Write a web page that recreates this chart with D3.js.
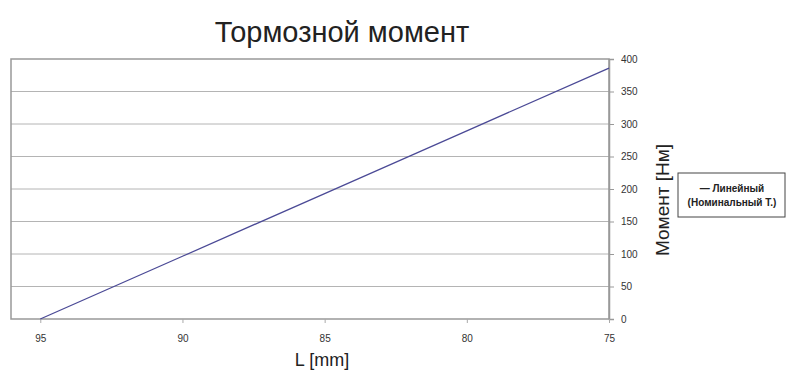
<!DOCTYPE html>
<html>
<head>
<meta charset="utf-8">
<script src="https://cdn.jsdelivr.net/npm/d3@7"></script>
<style>
  body { margin: 0; background: #fff; }
  text { font-family: "Liberation Sans", Arial, sans-serif; }
</style>
</head>
<body>
<div id="chart"></div>
<script>
// Chart data
const lengths = [95, 90, 85, 80, 75];          // L [mm]
const moments = [0, 96.5, 193, 289.5, 386];     // Момент [Нм]
const xTicks = [95, 90, 85, 80, 75];
const yTicks = [0, 50, 100, 150, 200, 250, 300, 350, 400];

const width = 786, height = 374;
const plot = { left: 11, right: 609, top: 59, bottom: 319 };

const svg = d3.select("#chart").append("svg")
    .attr("width", width)
    .attr("height", height);

// Scales (x reversed)
const x = d3.scaleLinear().domain([96.03, 75]).range([plot.left, plot.right]);
const y = d3.scaleLinear().domain([0, 400]).range([plot.bottom, plot.top]);

// Grid lines
svg.append("g")
    .selectAll("line")
    .data(yTicks.filter(d => d > 0 && d < 400))
    .enter().append("line")
    .attr("x1", plot.left)
    .attr("x2", plot.right)
    .attr("y1", d => y(d))
    .attr("y2", d => y(d))
    .attr("stroke", "#b4b4b4")
    .attr("stroke-width", 1);

// Plot frame
svg.append("rect")
    .attr("x", plot.left)
    .attr("y", plot.top)
    .attr("width", plot.right - plot.left)
    .attr("height", plot.bottom - plot.top)
    .attr("fill", "none")
    .attr("stroke", "#999")
    .attr("stroke-width", 1.5);

// Right y axis
const yAxis = svg.append("g")
    .attr("transform", `translate(${plot.right},0)`)
    .call(d3.axisRight(y).tickValues(yTicks).tickSize(5).tickPadding(7));
yAxis.select(".domain").attr("stroke", "#999").attr("stroke-width", 1.5);
yAxis.selectAll(".tick line").attr("stroke", "#999");
yAxis.selectAll(".tick text")
    .attr("fill", "#333")
    .style("font-size", "10px");

// Bottom x axis
const xAxis = svg.append("g")
    .attr("transform", `translate(0,${plot.bottom})`)
    .call(d3.axisBottom(x).tickValues(xTicks).tickSize(4).tickPadding(12));
xAxis.select(".domain").remove();
xAxis.selectAll(".tick line").attr("stroke", "#aaa");
xAxis.selectAll(".tick text")
    .attr("fill", "#333")
    .style("font-size", "10px");

// Line
const line = d3.line()
    .x((d, i) => x(lengths[i]))
    .y(d => y(d));
svg.append("path")
    .datum(moments)
    .attr("d", line)
    .attr("fill", "none")
    .attr("stroke", "#4b4a96")
    .attr("stroke-width", 1.3);

// Title
svg.append("text")
    .attr("x", 342)
    .attr("y", 42)
    .attr("text-anchor", "middle")
    .attr("fill", "#222")
    .style("font-size", "29px")
    .text("Тормозной момент");

// Axis titles
svg.append("text")
    .attr("x", 322)
    .attr("y", 366)
    .attr("text-anchor", "middle")
    .attr("fill", "#222")
    .style("font-size", "18px")
    .text("L [mm]");

svg.append("text")
    .attr("transform", "translate(669,200) rotate(-90)")
    .attr("text-anchor", "middle")
    .attr("fill", "#222")
    .style("font-size", "19px")
    .text("Момент [Нм]");

// Legend
const legend = svg.append("g").attr("transform", "translate(678,173)");
legend.append("rect")
    .attr("width", 107)
    .attr("height", 44)
    .attr("fill", "#fff")
    .attr("stroke", "#444")
    .attr("stroke-width", 1);
legend.append("text")
    .attr("x", 54)
    .attr("y", 19)
    .attr("text-anchor", "middle")
    .attr("fill", "#222")
    .style("font-size", "10px")
    .style("font-weight", "bold")
    .text("— Линейный");
legend.append("text")
    .attr("x", 54)
    .attr("y", 33)
    .attr("text-anchor", "middle")
    .attr("fill", "#222")
    .style("font-size", "10px")
    .style("font-weight", "bold")
    .text("(Номинальный Т.)");
</script>
</body>
</html>
